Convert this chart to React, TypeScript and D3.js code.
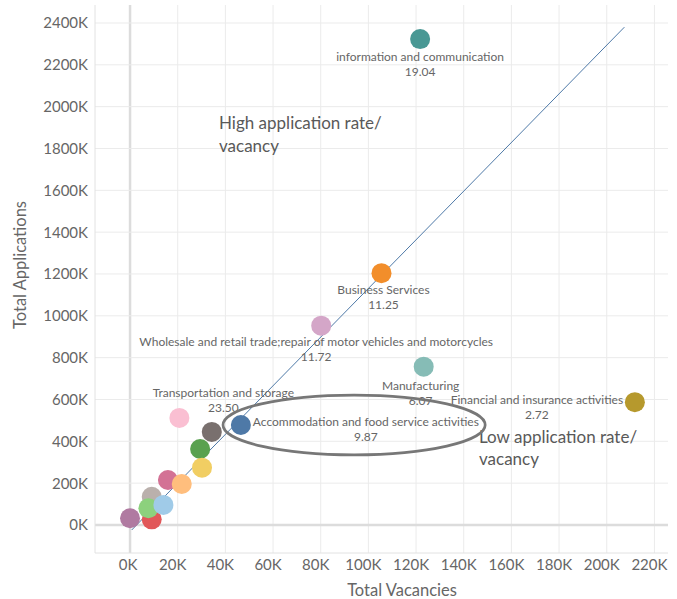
import React from "react";
import * as d3 from "d3";

// ---- data (thousands) ----
const categories = [
  "Other A", "Other B", "Other C", "Other D", "Other E", "Other F", "Other G",
  "Other H", "Other I", "Other J",
  "Transportation and storage",
  "Accommodation and food service activities",
  "Wholesale and retail trade;repair of motor vehicles and motorcycles",
  "Business Services",
  "Manufacturing",
  "information and communication",
  "Financial and insurance activities",
];
const vacancies = [9.1, 0.0, 9.1, 7.7, 14.0, 15.9, 21.7, 29.4, 30.2, 34.3, 20.7, 46.5, 80.2, 105.5, 123.2, 121.7, 211.8];
const applications = [27, 32, 135, 80, 96, 215, 196, 363, 274, 445, 512, 478, 953, 1204, 757, 2323, 587];
const ratios = [null, null, null, null, null, null, null, null, null, null, "23.50", "9.87", "11.72", "11.25", "6.07", "19.04", "2.72"];
const colors = [
  "#e15759", "#b07aa1", "#bab0ac", "#8cd17d", "#a0cbe8", "#d37295", "#ffbe7d",
  "#59a14f", "#f1ce63", "#79706e", "#fabfd2", "#4e79a7", "#d4a6c8", "#f28e2b",
  "#86bcb6", "#499894", "#b6992d",
];
const xTicks = [0, 20, 40, 60, 80, 100, 120, 140, 160, 180, 200, 220];
const yTicks = [0, 200, 400, 600, 800, 1000, 1200, 1400, 1600, 1800, 2000, 2200, 2400];
const trendX = [0.7, 207.4];
const trendY = [-24, 2380];
const xTitle = "Total Vacancies";
const yTitle = "Total Applications";
const highNote = ["High application rate/", "vacancy"];
const lowNote = ["Low application rate/", "vacancy"];

// label placement (dx, dy of name baseline; value is 15px below)
const labelLayout: Record<string, { dx: number; dy: number }> = {
  "Transportation and storage": { dx: 44, dy: -21 },
  "Accommodation and food service activities": { dx: 125, dy: 1 },
  "Wholesale and retail trade;repair of motor vehicles and motorcycles": { dx: -5, dy: 20 },
  "Business Services": { dx: 2, dy: 21 },
  "Manufacturing": { dx: -3, dy: 23 },
  "information and communication": { dx: 0, dy: 22 },
  "Financial and insurance activities": { dx: -98, dy: 2 },
};

const W = 677, H = 599;
const left = 95, right = 668, top = 5, bottom = 553;

export default function App() {
  const x = d3.scaleLinear().domain([-14.7, 225.7]).range([left, right]);
  const y = d3.scaleLinear().domain([-134, 2486]).range([bottom, top]);
  const font = "Lato, 'Open Sans', sans-serif";
  const line = d3.line<[number, number]>().x((d) => x(d[0])).y((d) => y(d[1]));
  const trendPts: [number, number][] = trendX.map((v, i) => [v, trendY[i]]);

  // ellipse annotation in data coords
  const ellCx = 94, ellCy = 478, ellRx = 55, ellRy = 143;

  return (
    <svg width={W} height={H} style={{ position: "absolute", left: 0, top: 0, background: "#fff" }} fontFamily={font}>
      {/* gridlines */}
      {xTicks.map((t) => (
        <line key={"gx" + t} x1={x(t)} x2={x(t)} y1={top} y2={bottom} stroke={t === 0 ? "#dcdcdc" : "#ebebeb"} strokeWidth={t === 0 ? 2.5 : 1} />
      ))}
      {yTicks.map((t) => (
        <line key={"gy" + t} x1={left} x2={right} y1={y(t)} y2={y(t)} stroke={t === 0 ? "#dcdcdc" : "#ebebeb"} strokeWidth={t === 0 ? 2.5 : 1} />
      ))}
      {/* axis borders */}
      <line x1={left} x2={left} y1={top} y2={bottom} stroke="#e2e2e2" />
      <line x1={left} x2={right} y1={bottom} y2={bottom} stroke="#e2e2e2" />

      {/* tick labels */}
      {yTicks.map((t) => (
        <text key={"ty" + t} x={88} y={y(t)} dy="0.36em" textAnchor="end" fontSize={15} fill="#666">{`${t}K`}</text>
      ))}
      {xTicks.map((t) => (
        <text key={"tx" + t} x={x(t) - (t > 0 ? 5 : 2)} y={570} textAnchor="middle" fontSize={15} fill="#666">{`${t}K`}</text>
      ))}
      <text x={402} y={596} textAnchor="middle" fontSize={16.5} fill="#666">{xTitle}</text>
      <text transform={`translate(26,265) rotate(-90)`} textAnchor="middle" fontSize={16.5} fill="#666">{yTitle}</text>

      {/* trend line */}
      <path d={line(trendPts) || ""} fill="none" stroke="#4e79a7" strokeWidth={1} />

      {/* points */}
      {categories.map((c, i) => (
        <circle key={"p" + i} cx={x(vacancies[i])} cy={y(applications[i])} r={10} fill={colors[i]} />
      ))}

      {/* labels */}
      {categories.map((c, i) => {
        const r = ratios[i];
        const lay = labelLayout[c];
        if (!r || !lay) return null;
        const cx = x(vacancies[i]) + lay.dx;
        const cy = y(applications[i]) + lay.dy;
        return (
          <g key={"l" + i} fontSize={12} fill="#666" textAnchor="middle">
            <text x={cx} y={cy}>{c}</text>
            <text x={cx} y={cy + 15}>{r}</text>
          </g>
        );
      })}

      {/* annotations */}
      <text x={219} y={129} fontSize={17} fill="#595959">
        <tspan x={219} y={129}>{highNote[0]}</tspan>
        <tspan x={219} y={152}>{highNote[1]}</tspan>
      </text>
      <text fontSize={17} fill="#595959">
        <tspan x={479} y={443}>{lowNote[0]}</tspan>
        <tspan x={479} y={465}>{lowNote[1]}</tspan>
      </text>
      <ellipse cx={x(ellCx)} cy={y(ellCy)} rx={x(ellRx) - x(0)} ry={y(0) - y(ellRy)} fill="none" stroke="#777" strokeWidth={2.7} />
    </svg>
  );
}
